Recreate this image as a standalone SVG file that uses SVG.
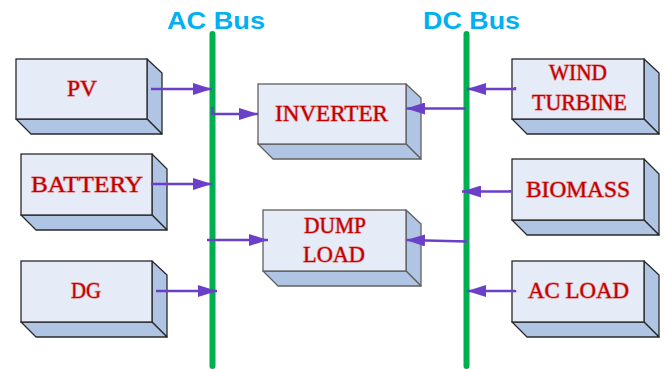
<svg xmlns="http://www.w3.org/2000/svg" width="665" height="369" viewBox="0 0 665 369">
  <style>
    .front { fill: #e6ecf7; stroke: #2a2a2a; stroke-width: 1.3; }
    .side { fill: #b0c5e3; stroke: #2a2a2a; stroke-width: 1.3; stroke-linejoin: round; }
    .mid .front, .mid .side { stroke: #606060; }
    .lbl { font-family: "Liberation Serif", "DejaVu Serif", serif; font-size: 23px; fill: #c00000; stroke: #e49a9a; stroke-width: 1.4; paint-order: stroke; stroke-linejoin: round; }
    .bus { stroke: #00b050; stroke-width: 6; stroke-linecap: round; }
    .title { font-family: "Liberation Sans", Arial, sans-serif; font-weight: bold; font-size: 23px; fill: #00b0f0; }
    .wire { fill: none; stroke: #6a40c8; stroke-width: 2.4; marker-end: url(#head); }
  </style>
  <defs>
    <marker id="head" viewBox="0 0 19 12" refX="19" refY="6" markerWidth="19" markerHeight="12" markerUnits="userSpaceOnUse" orient="auto">
      <path d="M0,0 L19,6 L0,12 z" fill="#6a40c8"/>
    </marker>
  </defs>

  <!-- bus bars -->
  <g id="ac-bus">
    <line class="bus" x1="212.5" y1="34" x2="212.5" y2="366"/>
    <text class="title" x="167" y="29" textLength="98" lengthAdjust="spacingAndGlyphs">AC Bus</text>
  </g>
  <g id="dc-bus">
    <line class="bus" x1="466.5" y1="34" x2="466.5" y2="366"/>
    <text class="title" x="423" y="29" textLength="97" lengthAdjust="spacingAndGlyphs">DC Bus</text>
  </g>

  <!-- source / load blocks (front face + side + bottom bevel) -->
  <g id="pv">
    <polygon class="side" points="147,59 162,73 162,134 147,119"/>
    <polygon class="side" points="16,119 147,119 162,134 31,134"/>
    <rect class="front" x="16" y="59" width="131" height="60"/>
    <text class="lbl" x="67" y="96" textLength="30" lengthAdjust="spacingAndGlyphs">PV</text>
  </g>
  <g id="battery">
    <polygon class="side" points="152,154 167,169 167,230 152,215"/>
    <polygon class="side" points="21,215 152,215 167,230 36,230"/>
    <rect class="front" x="21" y="154" width="131" height="61"/>
    <text class="lbl" x="31" y="192" textLength="112" lengthAdjust="spacingAndGlyphs">BATTERY</text>
  </g>
  <g id="dg">
    <polygon class="side" points="152,261 167,275 167,337 152,322"/>
    <polygon class="side" points="21,322 152,322 167,337 36,337"/>
    <rect class="front" x="21" y="261" width="131" height="61"/>
    <text class="lbl" x="71" y="298" textLength="30" lengthAdjust="spacingAndGlyphs">DG</text>
  </g>
  <g id="inverter" class="mid">
    <polygon class="side" points="406,84 421,98 421,159 406,144"/>
    <polygon class="side" points="258,144 406,144 421,159 273,159"/>
    <rect class="front" x="258" y="84" width="148" height="60"/>
    <text class="lbl" x="275" y="121" textLength="113" lengthAdjust="spacingAndGlyphs">INVERTER</text>
  </g>
  <g id="dump-load" class="mid">
    <polygon class="side" points="406,210 421,224 421,286 406,271"/>
    <polygon class="side" points="263,271 406,271 421,286 278,286"/>
    <rect class="front" x="263" y="210" width="143" height="61"/>
    <text class="lbl" x="304" y="233" textLength="62" lengthAdjust="spacingAndGlyphs">DUMP</text>
    <text class="lbl" x="303" y="262" textLength="62" lengthAdjust="spacingAndGlyphs">LOAD</text>
  </g>
  <g id="wind-turbine">
    <polygon class="side" points="644,59 659,73 659,134 644,119"/>
    <polygon class="side" points="512,119 644,119 659,134 527,134"/>
    <rect class="front" x="512" y="59" width="132" height="60"/>
    <text class="lbl" x="549" y="80" textLength="58" lengthAdjust="spacingAndGlyphs">WIND</text>
    <text class="lbl" x="532" y="110" textLength="95" lengthAdjust="spacingAndGlyphs">TURBINE</text>
  </g>
  <g id="biomass">
    <polygon class="side" points="644,159 659,174 659,235 644,220"/>
    <polygon class="side" points="512,220 644,220 659,235 527,235"/>
    <rect class="front" x="512" y="159" width="132" height="61"/>
    <text class="lbl" x="526" y="197" textLength="104" lengthAdjust="spacingAndGlyphs">BIOMASS</text>
  </g>
  <g id="ac-load">
    <polygon class="side" points="644,261 659,275 659,337 644,322"/>
    <polygon class="side" points="512,322 644,322 659,337 527,337"/>
    <rect class="front" x="512" y="261" width="132" height="61"/>
    <text class="lbl" x="528" y="298" textLength="101" lengthAdjust="spacingAndGlyphs">AC LOAD</text>
  </g>

  <!-- connectors -->
  <g id="connectors">
    <path class="wire" d="M151,89 H212"/>
    <path class="wire" d="M212.5,107 V114 H258"/>
    <path class="wire" d="M151,184 H212"/>
    <path class="wire" d="M207,240 H268"/>
    <path class="wire" d="M156,291 H217"/>
    <path class="wire" d="M515,87 V89 H467"/>
    <path class="wire" d="M466,108.5 H406"/>
    <path class="wire" d="M510,190 V191.5 H462"/>
    <path class="wire" d="M467,241.5 L406,240"/>
    <path class="wire" d="M515,290 V291 H467"/>
  </g>
</svg>
